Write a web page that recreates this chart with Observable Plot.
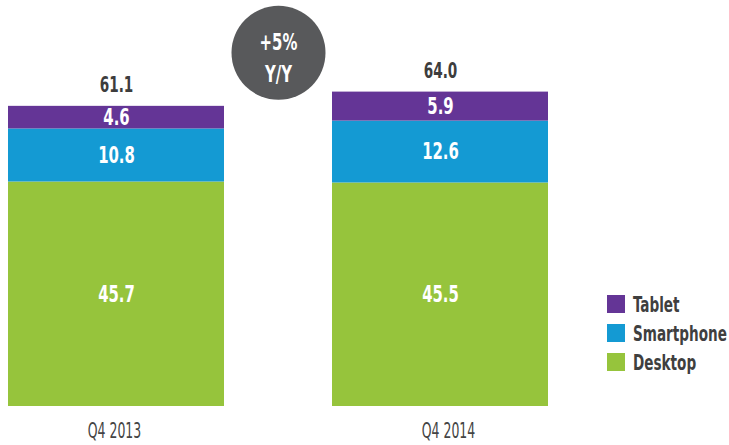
<!DOCTYPE html>
<html>
<head>
<meta charset="utf-8">
<script src="https://cdn.jsdelivr.net/npm/d3@7"></script>
<script src="https://cdn.jsdelivr.net/npm/@observablehq/plot@0.6"></script>
<style>
  html, body { margin: 0; padding: 0; background: #fff; }
  #chart svg { display: block; }
</style>
</head>
<body>
<div id="chart"></div>
<script>
const quarters = ["Q4 2013", "Q4 2014"];
const segments = ["Desktop", "Smartphone", "Tablet"];
const segmentColors = ["#96c43c", "#149ad3", "#643596"];
const desktop = [45.7, 45.5];
const smartphone = [10.8, 12.6];
const tablet = [4.6, 5.9];
const totals = [61.1, 64.0];
const growthLabel = ["+5%", "Y/Y"];

const series = {Desktop: desktop, Smartphone: smartphone, Tablet: tablet};
const rows = [];
quarters.forEach((q, i) => segments.forEach(s => rows.push({quarter: q, segment: s, value: series[s][i]})));
const totalRows = quarters.map((q, i) => ({quarter: q, total: totals[i]}));

const FONT = '"DejaVu Sans Condensed", "DejaVu Sans", sans-serif';
const SQUEEZE = 0.72;

const axisStyle = {tickSize: 0, tickPadding: 16, fontSize: 22, fill: "#444", label: null, className: "qaxis"};

const chart = Plot.plot({
  width: 729,
  height: 445,
  marginLeft: 7,
  marginRight: 180,
  marginTop: 13,
  marginBottom: 39,
  style: {fontFamily: FONT, background: "#fff"},
  x: {domain: quarters, paddingInner: 0.332, paddingOuter: 0, label: null},
  y: {domain: [0, 80], axis: null},
  color: {domain: segments, range: segmentColors},
  marks: [
    Plot.barY(rows, {x: "quarter", y: "value", fill: "segment", order: segments}),
    Plot.text(rows, Plot.stackY({x: "quarter", y: "value", z: "segment", order: segments,
      text: d => d.value.toFixed(1), fill: "#fff", fontSize: 23, fontWeight: "bold"})),
    Plot.text(totalRows, {x: "quarter", y: "total", text: d => d.total.toFixed(1),
      dy: -21, fill: "#3d3d3d", fontSize: 21, fontWeight: "bold"}),
    Plot.dot([growthLabel], {x: () => quarters[0], y: () => 72, r: 47, dx: 162, fill: "#58595b"}),
    Plot.text([growthLabel], {x: () => quarters[0], y: () => 72, dx: 162, dy: 3,
      text: d => d.join("\n"), lineHeight: 1.4, fill: "#fff", fontSize: 23, fontWeight: "bold"}),
    Plot.axisX([quarters[0]], {...axisStyle, dx: -2}),
    Plot.axisX([quarters[1]], {...axisStyle, dx: 8})
  ]
});

const svg = d3.select(chart);
const legendItems = ["Tablet", "Smartphone", "Desktop"];
const lg = svg.append("g").attr("class", "legend").attr("font-family", FONT).attr("text-anchor", "start");
legendItems.forEach((name, i) => {
  const y = 295 + i * 29;
  lg.append("rect").attr("x", 607).attr("y", y).attr("width", 18).attr("height", 18)
    .attr("fill", segmentColors[segments.indexOf(name)]);
  lg.append("text").attr("x", 633).attr("y", y + 9).attr("dy", "0.36em")
    .attr("font-size", 21).attr("font-weight", "bold").attr("fill", "#3f3f3f").text(name);
});

// Narrow every text horizontally around its own anchor to mimic the condensed typeface.
chart.querySelectorAll("text").forEach(t => {
  const inAxis = t.closest(".qaxis") !== null;
  const s = inAxis ? 0.63 : SQUEEZE;
  const tr = t.getAttribute("transform") || "";
  const x = parseFloat(t.getAttribute("x")) || 0;
  t.setAttribute("transform", `${tr} translate(${x},0) scale(${s},1) translate(${-x},0)`.trim());
});

document.getElementById("chart").appendChild(chart);
</script>
</body>
</html>
